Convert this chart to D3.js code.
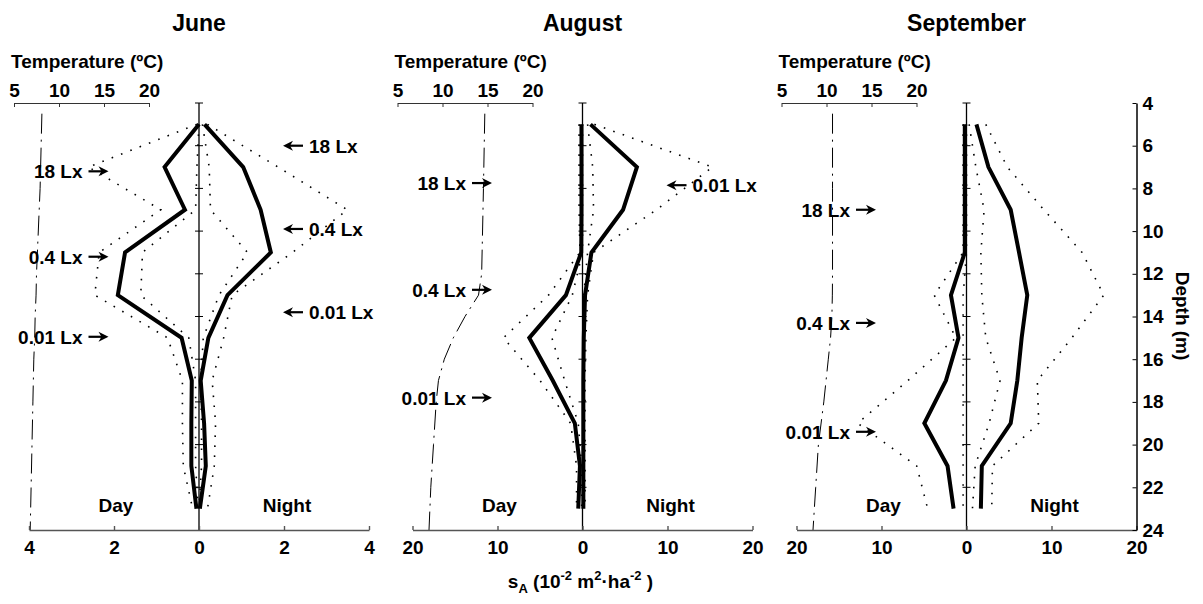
<!DOCTYPE html>
<html>
<head>
<meta charset="utf-8">
<script src="https://cdn.jsdelivr.net/npm/d3@7"></script>
<style>
  body { margin: 0; background: #fff; }
  svg text { font-family: "Liberation Sans", Arial, Helvetica, sans-serif; font-weight: bold; font-size: 19px; fill: #000; }
</style>
</head>
<body>
<svg id="chart" width="1203" height="604"></svg>
<script>
// Sampling depths (m) of the acoustic profiles
const depths = [5, 7, 9, 11, 13, 15, 17, 19, 21, 23];
// Depths of the temperature profiles (m)
const tempDepths = [4.5, 8, 12, 13, 14, 15, 16, 17, 18, 20, 22, 24];

const monthNames = ["June", "August", "September"];
const sAMax = [4, 20, 20];
const sATicks = [[-4, -2, 0, 2, 4], [-20, -10, 0, 10, 20], [-20, -10, 0, 10, 20]];
const tempTicks = [5, 10, 15, 20];
const depthTicks = [4, 6, 8, 10, 12, 14, 16, 18, 20, 22, 24];

// June: mean sA and the two bounding profiles, day and night
const juneDay      = [0, 0.81, 0.33, 1.74, 1.91, 0.41, 0.17, 0.18, 0.18, 0.06];
const juneDayLow   = [0, 0.05, 0.08, 1.33, 1.37, 0.24, 0.08, 0.08, 0.08, 0.02];
const juneDayHigh  = [0.05, 2.6, 0.9, 2.35, 2.45, 0.74, 0.39, 0.39, 0.37, 0.15];
const juneNight     = [0.13, 1.04, 1.45, 1.69, 0.67, 0.22, 0.04, 0.12, 0.16, 0.02];
const juneNightLow  = [0.08, 0.24, 0.27, 1.14, 0.47, 0.1, 0.04, 0.06, 0.06, 0.0];
const juneNightHigh = [0.2, 1.86, 3.49, 2.2, 0.78, 0.58, 0.31, 0.39, 0.36, 0.2];
const juneTemp = [8.1, 7.9, 7.5, 7.45, 7.35, 7.3, 7.2, 7.15, 7.1, 7.0, 6.9, 6.8];

// August
const augustDay      = [0.12, 0.12, 0.12, 0.15, 1.95, 6.26, 3.5, 0.9, 0.3, 0.5];
const augustDayLow   = [0, 0, 0, 0, 1.2, 3.6, 2.1, 0.5, 0.1, 0.1];
const augustDayHigh  = [0.4, 0.4, 0.4, 0.3, 4.0, 9.3, 5.0, 1.4, 0.7, 0.7];
const augustNight     = [0.94, 6.4, 4.77, 1.05, 0.3, 0.15, 0.1, 0.1, 0.1, 0.1];
const augustNightLow  = [0.6, 1.2, 1.3, 0.6, 0.15, 0.05, 0.05, 0.05, 0.05, 0.05];
const augustNightHigh = [1.4, 15.3, 8.7, 1.3, 0.6, 0.4, 0.3, 0.3, 0.3, 0.3];
const augustTemp = [14.7, 14.55, 14.35, 14.0, 12.5, 11.2, 10.2, 9.55, 9.3, 9.0, 8.7, 8.5];

// September
const septemberDay      = [0.2, 0.2, 0.2, 0.2, 1.83, 0.94, 2.42, 4.96, 2.23, 1.52];
const septemberDayLow   = [0, 0, 0, 0, 0.4, 0.4, 0.4, 0.4, 0.4, 0.4];
const septemberDayHigh  = [0.4, 0.4, 0.4, 0.4, 3.8, 1.24, 6.9, 12.8, 5.86, 4.57];
const septemberNight     = [1.17, 2.58, 5.2, 6.18, 7.15, 6.49, 5.98, 5.2, 1.8, 1.69];
const septemberNightLow  = [0.31, 1.1, 2.07, 1.69, 1.8, 2.27, 3.95, 2.66, 1.02, 0.7];
const septemberNightHigh = [2.27, 4.8, 9.1, 13.6, 16.15, 12.4, 8.33, 8.5, 3.05, 2.97];
const septemberTemp = [10.67, 10.67, 10.67, 10.65, 10.6, 10.45, 10.2, 9.95, 9.7, 9.1, 8.8, 8.5];

// Isolume depths (m): day side (left) and night side (right)
const juneDayLux = ["18 Lx", "0.4 Lx", "0.01 Lx"];
const juneDayLuxDepth = [7.2, 11.2, 14.95];
const juneNightLux = ["18 Lx", "0.4 Lx", "0.01 Lx"];
const juneNightLuxDepth = [6.0, 9.9, 13.8];
const augustDayLux = ["18 Lx", "0.4 Lx", "0.01 Lx"];
const augustDayLuxDepth = [7.75, 12.75, 17.8];
const augustNightLux = ["0.01 Lx"];
const augustNightLuxDepth = [7.85];
const septemberDayLux = ["18 Lx", "0.4 Lx", "0.01 Lx"];
const septemberDayLuxDepth = [9.0, 14.3, 19.4];
const septemberNightLux = [];
const septemberNightLuxDepth = [];

const panels = [
  { day: juneDay, dayLo: juneDayLow, dayHi: juneDayHigh, night: juneNight, nightLo: juneNightLow, nightHi: juneNightHigh, temp: juneTemp,
    dLux: juneDayLux, dLuxD: juneDayLuxDepth, nLux: juneNightLux, nLuxD: juneNightLuxDepth },
  { day: augustDay, dayLo: augustDayLow, dayHi: augustDayHigh, night: augustNight, nightLo: augustNightLow, nightHi: augustNightHigh, temp: augustTemp,
    dLux: augustDayLux, dLuxD: augustDayLuxDepth, nLux: augustNightLux, nLuxD: augustNightLuxDepth },
  { day: septemberDay, dayLo: septemberDayLow, dayHi: septemberDayHigh, night: septemberNight, nightLo: septemberNightLow, nightHi: septemberNightHigh, temp: septemberTemp,
    dLux: septemberDayLux, dLuxD: septemberDayLuxDepth, nLux: septemberNightLux, nLuxD: septemberNightLuxDepth }
];

const svg = d3.select("#chart");
const panelLeft = [29, 412.5, 796.5];
const panelW = 340;
const y = d3.scaleLinear().domain([4, 24]).range([103, 530]);

function arrow(g, tip, yy, dir) {
  // dir = +1 points right, -1 points left
  g.append("line")
    .attr("x1", tip - dir * 20).attr("x2", tip - dir * 6)
    .attr("y1", yy).attr("y2", yy)
    .attr("stroke", "#000").attr("stroke-width", 2.2);
  g.append("path")
    .attr("d", `M${tip},${yy} L${tip - dir * 10},${yy - 5} L${tip - dir * 7},${yy} L${tip - dir * 10},${yy + 5} Z`)
    .attr("fill", "#000");
}

panels.forEach((p, i) => {
  const x = d3.scaleLinear().domain([-sAMax[i], sAMax[i]]).range([panelLeft[i], panelLeft[i] + panelW]);
  const x0 = x(0);
  const tx = d3.scaleLinear().domain([5, 20]).range([panelLeft[i] - 15, panelLeft[i] + 120]);
  const g = svg.append("g");

  // month title
  g.append("text").attr("x", x0).attr("y", 31).attr("text-anchor", "middle")
    .style("font-size", "23px").text(monthNames[i]);

  // temperature axis on top
  g.append("text").attr("x", tx(5) - 3).attr("y", 68).text("Temperature (ºC)");
  const ta = g.append("g").attr("transform", "translate(0,103)")
    .call(d3.axisTop(tx).tickValues(tempTicks).tickSizeInner(-4).tickSizeOuter(0).tickPadding(6));
  ta.select(".domain").attr("stroke", "#333").attr("stroke-width", 1);
  ta.selectAll(".tick line").attr("stroke", "#333");

  // temperature profile
  g.append("path")
    .attr("d", d3.line().x(d => tx(d)).y((d, j) => y(tempDepths[j]))(p.temp))
    .attr("fill", "none").attr("stroke", "#000").attr("stroke-width", 1)
    .attr("stroke-dasharray", "20 6 2 6");

  // zero line with depth ticks
  g.append("line").attr("x1", x0).attr("x2", x0).attr("y1", y(4)).attr("y2", y(24))
    .attr("stroke", "#000").attr("stroke-width", 1.3);
  g.selectAll(".ztick").data(depthTicks.slice(0, -1)).join("line")
    .attr("x1", x0 - 4).attr("x2", x0 + 4).attr("y1", d => y(d)).attr("y2", d => y(d))
    .attr("stroke", "#000").attr("stroke-width", 1);

  const prof = (vals, sign) => d3.line().x(d => x(sign * d)).y((d, j) => y(depths[j]))(vals);

  // bounding profiles (dotted)
  [[p.dayLo, -1], [p.dayHi, -1], [p.nightLo, 1], [p.nightHi, 1]].forEach(([v, s]) => {
    g.append("path").attr("d", prof(v, s)).attr("fill", "none")
      .attr("stroke", "#000").attr("stroke-width", 1.6).attr("stroke-dasharray", "1.6 8.4");
  });
  // mean profiles (thick)
  [[p.day, -1], [p.night, 1]].forEach(([v, s]) => {
    g.append("path").attr("d", prof(v, s)).attr("fill", "none")
      .attr("stroke", "#000").attr("stroke-width", 4).attr("stroke-linejoin", "miter");
  });

  // bottom sA axis
  const ba = g.append("g").attr("transform", "translate(0,530)")
    .call(d3.axisBottom(x).tickValues(sATicks[i]).tickFormat(d => Math.abs(d))
      .tickSizeInner(-4).tickSizeOuter(0).tickPadding(11));
  ba.select(".domain").attr("stroke", "#555").attr("stroke-width", 1.6);
  ba.selectAll(".tick line").attr("stroke", "#555").attr("stroke-width", 1.4);

  // Day / Night
  g.append("text").attr("x", x0 - 83).attr("y", 512).attr("text-anchor", "middle").text("Day");
  g.append("text").attr("x", x0 + 88).attr("y", 512).attr("text-anchor", "middle").text("Night");

  // isolume markers
  const lTip = panelLeft[i] + 79.5;
  p.dLux.forEach((t, j) => {
    const yy = y(p.dLuxD[j]);
    arrow(g, lTip, yy, 1);
    g.append("text").attr("x", lTip - 26).attr("y", yy + 7).attr("text-anchor", "end").text(t);
  });
  const rTip = x0 + 84;
  p.nLux.forEach((t, j) => {
    const yy = y(p.nLuxD[j]);
    arrow(g, rTip, yy, -1);
    g.append("text").attr("x", rTip + 26).attr("y", yy + 7).text(t);
  });

  // depth axis on the right of the last panel
  if (i === panels.length - 1) {
    const da = g.append("g").attr("transform", `translate(${panelLeft[i] + panelW},0)`)
      .call(d3.axisRight(y).tickValues(depthTicks).tickSizeInner(-4).tickSizeOuter(0).tickPadding(6));
    da.select(".domain").attr("stroke", "#000").attr("stroke-width", 1.5);
    da.selectAll(".tick line").attr("stroke", "#000");
    g.append("text").attr("transform", "translate(1176,316) rotate(90)")
      .attr("text-anchor", "middle").text("Depth (m)");
  }

  // common sA axis title under the middle panel
  if (i === 1) {
    const t = g.append("text").attr("x", x0 - 2).attr("y", 588).attr("text-anchor", "middle");
    t.append("tspan").text("s");
    t.append("tspan").attr("dy", 5).style("font-size", "13px").text("A");
    t.append("tspan").attr("dy", -5).text(" (10");
    t.append("tspan").attr("dy", -8).style("font-size", "13px").text("-2");
    t.append("tspan").attr("dy", 8).text("  m");
    t.append("tspan").attr("dy", -8).style("font-size", "13px").text("2");
    t.append("tspan").attr("dy", 8).text("·ha");
    t.append("tspan").attr("dy", -8).style("font-size", "13px").text("-2");
    t.append("tspan").attr("dy", 8).text(" )");
  }
});
</script>
</body>
</html>
